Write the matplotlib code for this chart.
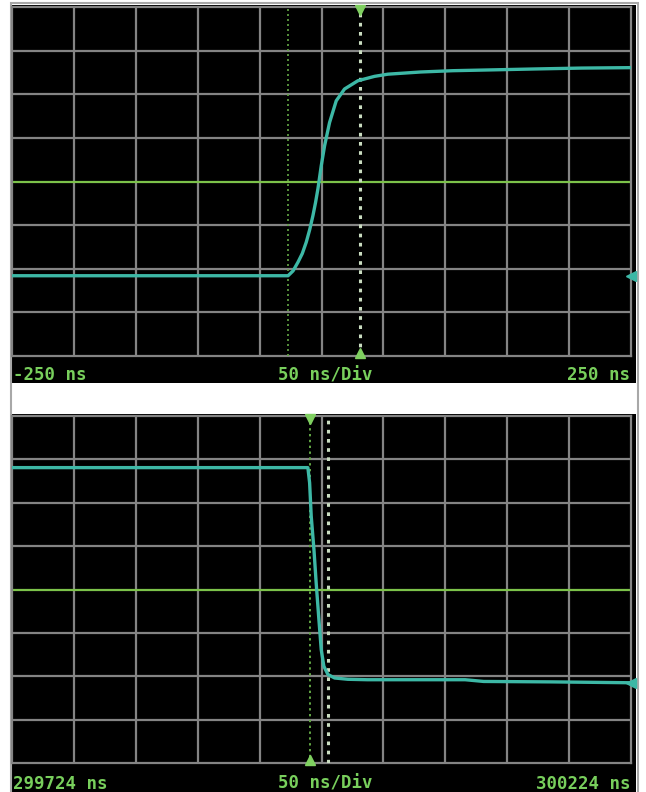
import matplotlib
matplotlib.use('Agg')

import matplotlib.pyplot as plt
from matplotlib.patches import Rectangle

W, H = 646, 792

# top capture: rising edge, -250..250 ns, y in divisions
t_top = [-250, -27, -23, -19, -15.5, -12.3, -9.5, -6.9, -4.8, -2.9, -0.2, 2.5,
         6.5, 11.9, 18.6, 29.4, 42.8, 53.6, 80, 106, 140, 173, 210, 250]
v_top = [-2.16, -2.16, -2.05, -1.85, -1.65, -1.39, -1.1, -0.78, -0.48, -0.17, 0.36, 0.82,
         1.35, 1.85, 2.12, 2.31, 2.41, 2.46, 2.51, 2.54, 2.56, 2.58, 2.60, 2.61]
cursors_top = [-27, 31]
labels_top = ["-250 ns", "50 ns/Div", "250 ns"]
xlim_top = (-250, 250)

# bottom capture: falling edge, 299724..300224 ns
t_bot = [299724, 299963.0, 299964.4, 299965.7, 299967.9, 299969.7, 299971.7, 299973.8,
         299975.9, 299979.2, 299984.6, 299995.3, 300011, 300060, 300090, 300105, 300160, 300224]
v_bot = [2.81, 2.81, 2.46, 1.69, 0.92, 0.15, -0.62, -1.39,
         -1.77, -1.96, -2.04, -2.07, -2.08, -2.08, -2.08, -2.12, -2.13, -2.15]
cursors_bot = [299964.5, 299979.5]
labels_bot = ["299724 ns", "50 ns/Div", "300224 ns"]
xlim_bot = (299724, 300224)

ns_per_div = 50

grid_col = '#848484'
center_col = '#7cc24a'
trace_col = '#3db8a6'
text_col = '#78cf5c'
cur_col = '#63a845'
cur2_col = '#c9dcc0'


def fx(x):
    return x / W


def fy(y):
    return 1 - y / H


fig = plt.figure(figsize=(W / 100, H / 100), dpi=100)
fig.patch.set_facecolor('white')

# black screen panels and outer frame
for y0, y1 in [(5, 383), (414, 795)]:
    fig.patches.append(Rectangle((fx(12), fy(y1)), fx(636) - fx(12), fy(y0) - fy(y1),
                                 transform=fig.transFigure, facecolor='black',
                                 edgecolor='none', zorder=-2))
fig.patches.append(Rectangle((fx(10.5), fy(800)), fx(638) - fx(10.5), fy(3.5) - fy(800),
                             transform=fig.transFigure, facecolor='none',
                             edgecolor='#a8a8a8', lw=1.5, zorder=-1))


def screen(pos, t, v, xlim, cursors, marked, labels, base_y):
    ax = fig.add_axes(pos)
    ax.set_zorder(1)
    ax.set_facecolor('black')
    ax.set_xlim(*xlim)
    ax.set_ylim(-4, 4)
    for k in range(1, 10):
        ax.axvline(xlim[0] + k * ns_per_div, color=grid_col, lw=1.6, zorder=1)
    for j in range(-3, 4):
        if j == 0:
            ax.axhline(j, color=center_col, lw=1.6, zorder=2)
        else:
            ax.axhline(j, color=grid_col, lw=1.6, zorder=1)
    for s in ax.spines.values():
        s.set_color(grid_col)
        s.set_linewidth(1.6)
    ax.set_xticks([])
    ax.set_yticks([])

    for i, c in enumerate(cursors):
        if i == marked:
            ax.axvline(c, color=cur2_col if marked == 1 else cur_col, lw=2.2 if marked == 1 else 1.4,
                       ls=(0, (1.2, 1.8)), zorder=3)
            ax.plot([c], [3.93], marker='v', color='#7fd060', ms=7, clip_on=False, zorder=5)
            ax.plot([c], [-3.93], marker='^', color='#7fd060', ms=7, clip_on=False, zorder=5)
        else:
            ax.axvline(c, color=cur2_col if marked == 0 else cur_col, lw=2.2 if marked == 0 else 1.2,
                       ls=(0, (1.2, 1.8)), zorder=3)

    ax.plot(t, v, color=trace_col, lw=2.4, solid_capstyle='round', zorder=4)
    ax.plot([xlim[1]], [v[-1] if marked == 0 else v[0]], marker='<', color=trace_col, ms=7,
            clip_on=False, zorder=5)

    fam = ['DejaVu Sans Mono']
    fig.text(fx(13), fy(base_y), labels[0], color=text_col, fontsize=12.5, fontweight='bold',
             family=fam, ha='left', va='baseline')
    fig.text(fx(325), fy(base_y), labels[1], color=text_col, fontsize=12.5, fontweight='bold',
             family=fam, ha='center', va='baseline')
    fig.text(fx(630), fy(base_y), labels[2], color=text_col, fontsize=12.5, fontweight='bold',
             family=fam, ha='right', va='baseline')
    return ax


screen([fx(12), fy(356), fx(631) - fx(12), fy(7) - fy(356)], t_top, v_top, xlim_top,
       cursors_top, 1, labels_top, 380)
screen([fx(12), fy(763), fx(631) - fx(12), fy(416) - fy(763)], t_bot, v_bot, xlim_bot,
       cursors_bot, 0, labels_bot, 789)

plt.savefig('out.png', dpi=100, facecolor='white')
